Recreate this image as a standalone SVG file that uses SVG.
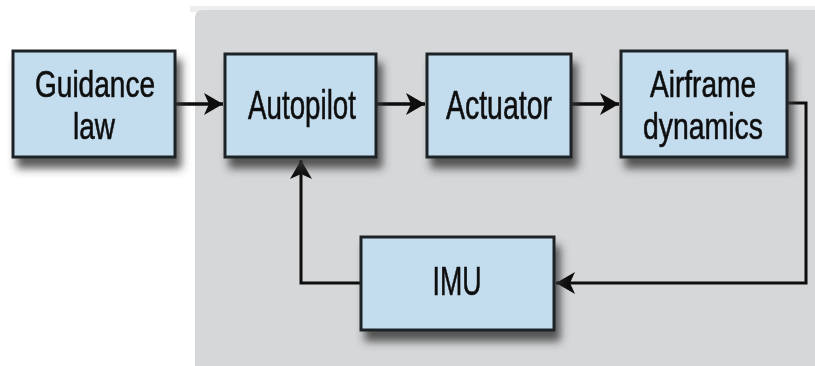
<svg xmlns="http://www.w3.org/2000/svg" width="815" height="366" viewBox="0 0 815 366">
  <style>
    .box { fill: #c3ddef; stroke: #1f2427; stroke-width: 3; }
    .lbl { font-family: "Liberation Sans", Arial, sans-serif; font-size: 41px; fill: #111; stroke: #111; stroke-width: 0.6; text-anchor: middle; }
    .two { font-size: 37px; }
    .wire { fill: none; stroke: #0d0d0d; stroke-width: 3.5; }
    .fb { fill: none; stroke: #0d0d0d; stroke-width: 3; }
  </style>
  <defs>
    <filter id="shadow" x="-10%" y="-10%" width="130%" height="145%">
      <feGaussianBlur in="SourceAlpha" stdDeviation="4.5" result="b"/>
      <feOffset in="b" dx="5" dy="10" result="o"/>
      <feFlood flood-color="#333333" flood-opacity="0.8"/>
      <feComposite in2="o" operator="in" result="s"/>
      <feMerge>
        <feMergeNode in="s"/>
        <feMergeNode in="SourceGraphic"/>
      </feMerge>
    </filter>
    <marker id="arrow" markerUnits="userSpaceOnUse" markerWidth="24" markerHeight="26" refX="20" refY="12" orient="auto">
      <path d="M20,12 L1,1 L6,12 L1,23 Z" fill="#0d0d0d"/>
    </marker>
  </defs>

  <!-- white page and grey loop panel -->
  <rect x="0" y="0" width="815" height="366" fill="#ffffff"/>
  <rect x="190" y="6" width="625" height="6" fill="#eeeeef"/>
  <rect x="195" y="10" width="640" height="380" rx="7" fill="#d6d7d9"/>

  <!-- connectors -->
  <g id="connectors">
    <line class="wire" x1="176" y1="104" x2="223" y2="104" marker-end="url(#arrow)"/>
    <line class="wire" x1="377" y1="104" x2="425" y2="104" marker-end="url(#arrow)"/>
    <line class="wire" x1="572" y1="104" x2="619" y2="104" marker-end="url(#arrow)"/>
    <polyline class="fb" points="788,103 806,103 806,283 556,283" marker-end="url(#arrow)"/>
    <polyline class="fb" points="360,283 301,283 301,160" marker-end="url(#arrow)"/>
  </g>

  <!-- blocks -->
  <g id="guidance-law" filter="url(#shadow)">
    <rect class="box" x="13" y="51" width="162" height="106"/>
    <text class="lbl two" x="95" y="97" textLength="120" lengthAdjust="spacingAndGlyphs">Guidance</text>
    <text class="lbl two" x="94" y="139" textLength="42" lengthAdjust="spacingAndGlyphs">law</text>
  </g>
  <g id="autopilot" filter="url(#shadow)">
    <rect class="box" x="225" y="54" width="151" height="103"/>
    <text class="lbl" x="302" y="119" textLength="108" lengthAdjust="spacingAndGlyphs">Autopilot</text>
  </g>
  <g id="actuator" filter="url(#shadow)">
    <rect class="box" x="427" y="54" width="144" height="103"/>
    <text class="lbl" x="499" y="119" textLength="106" lengthAdjust="spacingAndGlyphs">Actuator</text>
  </g>
  <g id="airframe-dynamics" filter="url(#shadow)">
    <rect class="box" x="621" y="51" width="166" height="106"/>
    <text class="lbl two" x="703" y="97" textLength="106" lengthAdjust="spacingAndGlyphs">Airframe</text>
    <text class="lbl two" x="703" y="139" textLength="120" lengthAdjust="spacingAndGlyphs">dynamics</text>
  </g>
  <g id="imu" filter="url(#shadow)">
    <rect class="box" x="361" y="237" width="193" height="93"/>
    <text class="lbl" x="457" y="295" textLength="49" lengthAdjust="spacingAndGlyphs">IMU</text>
  </g>
</svg>
